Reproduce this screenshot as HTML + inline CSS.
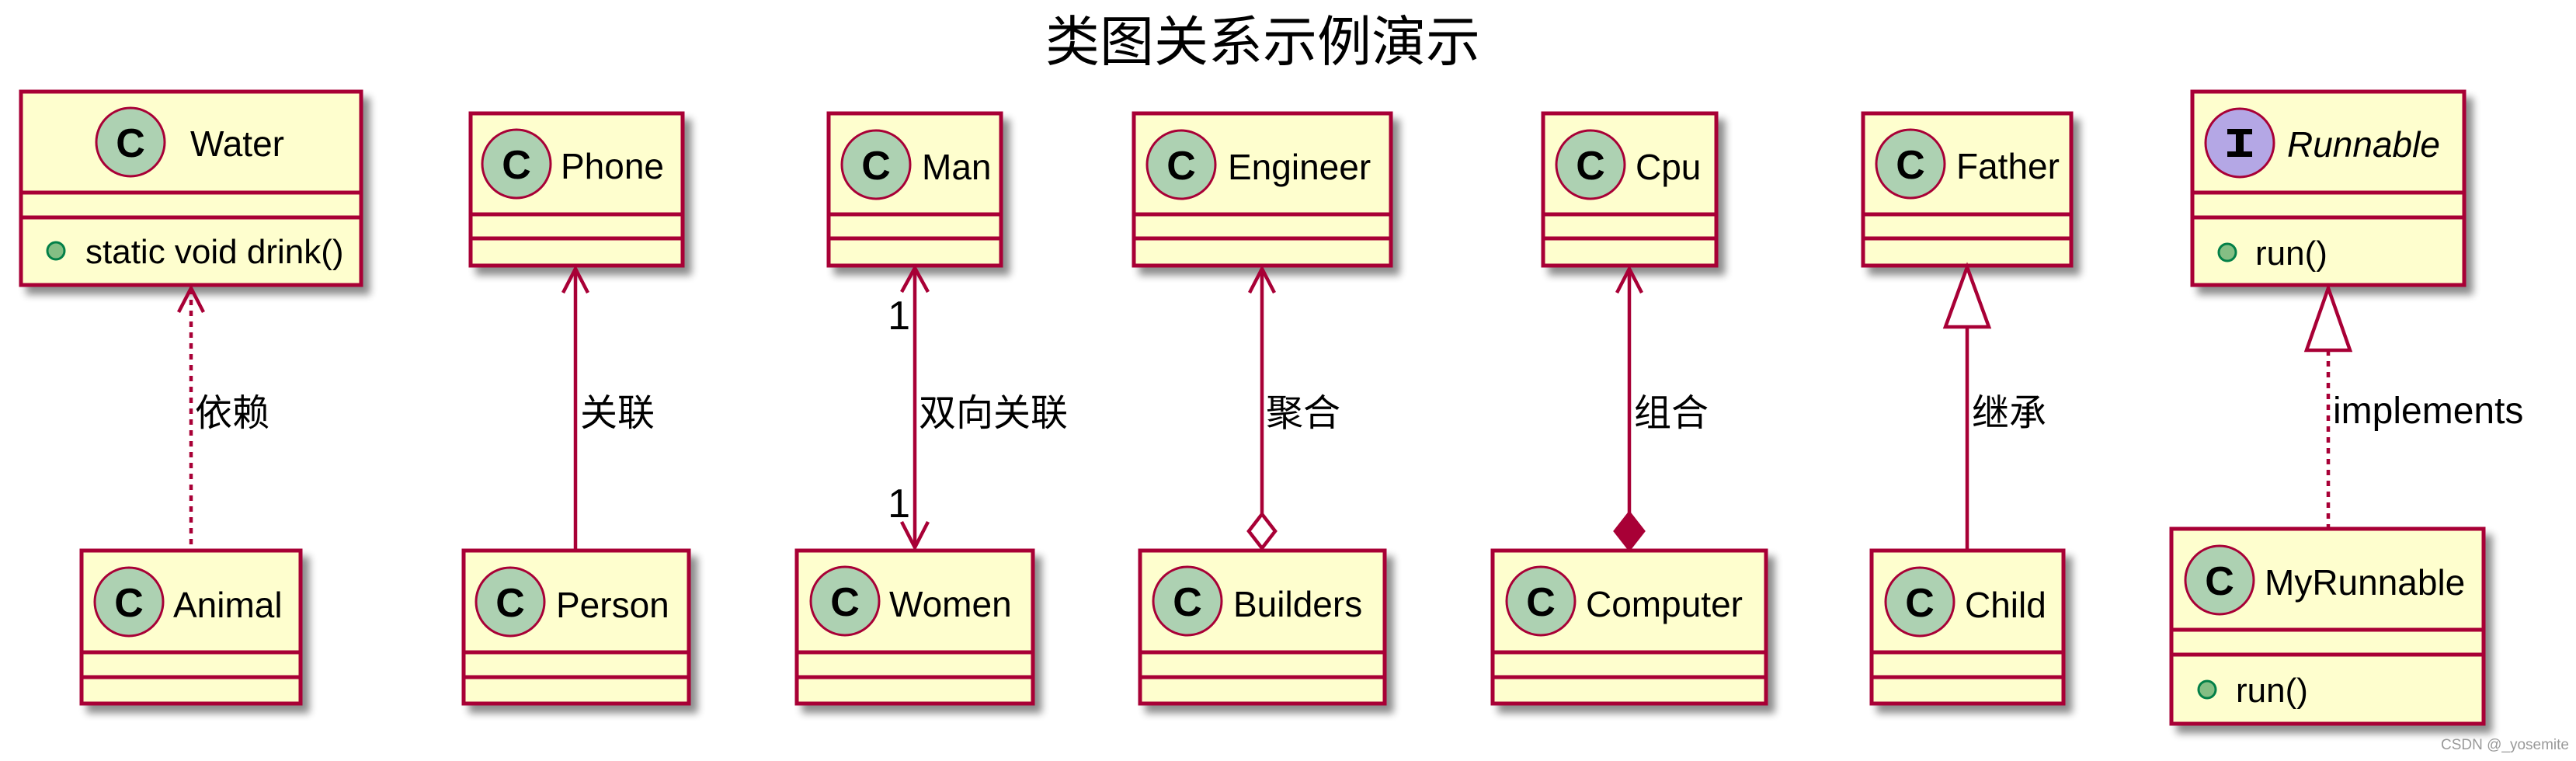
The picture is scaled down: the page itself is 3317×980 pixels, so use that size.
<!DOCTYPE html>
<html><head><meta charset="utf-8"><style>
html,body{margin:0;padding:0;background:#fff;}
svg{display:block;}
.n{font-family:"Liberation Sans","Noto Sans CJK SC",sans-serif;font-size:46px;fill:#000;}
.l{font-family:"Liberation Sans","Noto Sans CJK SC",sans-serif;font-size:48px;fill:#000;}
.c{font-family:"Liberation Sans",sans-serif;font-weight:bold;font-size:52px;fill:#000;text-anchor:middle;}
</style></head><body>
<svg width="3317" height="980" viewBox="0 0 3317 980" xmlns="http://www.w3.org/2000/svg">
<defs>
<filter id="sh" x="-10%" y="-10%" width="130%" height="140%">
<feGaussianBlur in="SourceAlpha" stdDeviation="5"/>
<feOffset dx="9" dy="10" result="b"/>
<feComponentTransfer><feFuncA type="linear" slope="0.45"/></feComponentTransfer>
<feMerge><feMergeNode/><feMergeNode in="SourceGraphic"/></feMerge>
</filter>
</defs>

<text x="1626" y="78" text-anchor="middle" style="font-family:'Noto Sans CJK SC',sans-serif;font-size:70px;fill:#000;">类图关系示例演示</text>

<g stroke="#A80036" stroke-width="5" fill="#FEFECE">
<!-- top row -->
<rect x="27" y="118" width="438" height="249" filter="url(#sh)"/>
<rect x="606" y="146" width="273" height="196" filter="url(#sh)"/>
<rect x="1067" y="146" width="222" height="196" filter="url(#sh)"/>
<rect x="1460" y="146" width="331" height="196" filter="url(#sh)"/>
<rect x="1987" y="146" width="223" height="196" filter="url(#sh)"/>
<rect x="2399" y="146" width="268" height="196" filter="url(#sh)"/>
<rect x="2823" y="118" width="350" height="249" filter="url(#sh)"/>
<!-- bottom row -->
<rect x="105" y="709" width="282" height="197" filter="url(#sh)"/>
<rect x="597" y="709" width="290" height="197" filter="url(#sh)"/>
<rect x="1026" y="709" width="304" height="197" filter="url(#sh)"/>
<rect x="1468" y="709" width="315" height="197" filter="url(#sh)"/>
<rect x="1922" y="709" width="352" height="197" filter="url(#sh)"/>
<rect x="2410" y="709" width="247" height="197" filter="url(#sh)"/>
<rect x="2796" y="681" width="402" height="251" filter="url(#sh)"/>
</g>

<g stroke="#A80036" stroke-width="5">
<line x1="27" y1="248" x2="465" y2="248"/><line x1="27" y1="280" x2="465" y2="280"/>
<line x1="606" y1="276" x2="879" y2="276"/><line x1="606" y1="307" x2="879" y2="307"/>
<line x1="1067" y1="276" x2="1289" y2="276"/><line x1="1067" y1="307" x2="1289" y2="307"/>
<line x1="1460" y1="276" x2="1791" y2="276"/><line x1="1460" y1="307" x2="1791" y2="307"/>
<line x1="1987" y1="276" x2="2210" y2="276"/><line x1="1987" y1="307" x2="2210" y2="307"/>
<line x1="2399" y1="276" x2="2667" y2="276"/><line x1="2399" y1="307" x2="2667" y2="307"/>
<line x1="2823" y1="248" x2="3173" y2="248"/><line x1="2823" y1="280" x2="3173" y2="280"/>
<line x1="105" y1="840" x2="387" y2="840"/><line x1="105" y1="872" x2="387" y2="872"/>
<line x1="597" y1="840" x2="887" y2="840"/><line x1="597" y1="872" x2="887" y2="872"/>
<line x1="1026" y1="840" x2="1330" y2="840"/><line x1="1026" y1="872" x2="1330" y2="872"/>
<line x1="1468" y1="840" x2="1783" y2="840"/><line x1="1468" y1="872" x2="1783" y2="872"/>
<line x1="1922" y1="840" x2="2274" y2="840"/><line x1="1922" y1="872" x2="2274" y2="872"/>
<line x1="2410" y1="840" x2="2657" y2="840"/><line x1="2410" y1="872" x2="2657" y2="872"/>
<line x1="2796" y1="811" x2="3198" y2="811"/><line x1="2796" y1="843" x2="3198" y2="843"/>
</g>

<!-- spot circles -->
<g stroke="#A80036" stroke-width="3" fill="#ADD1B2">
<circle cx="168" cy="183" r="44"/>
<circle cx="665" cy="211" r="44"/>
<circle cx="1128" cy="212" r="44"/>
<circle cx="1521" cy="212" r="44"/>
<circle cx="2048" cy="212" r="44"/>
<circle cx="2460" cy="211" r="44"/>
<circle cx="166" cy="775" r="44"/>
<circle cx="657" cy="775" r="44"/>
<circle cx="1088" cy="774" r="44"/>
<circle cx="1529" cy="774" r="44"/>
<circle cx="1984" cy="774" r="44"/>
<circle cx="2472" cy="775" r="44"/>
<circle cx="2858" cy="747" r="44"/>
<circle cx="2884" cy="184" r="44" fill="#B4A7E5"/>
</g>
<g class="c">
<text x="168" y="202" class="c">C</text>
<text x="665" y="230" class="c">C</text>
<text x="1128" y="231" class="c">C</text>
<text x="1521" y="231" class="c">C</text>
<text x="2048" y="231" class="c">C</text>
<text x="2460" y="230" class="c">C</text>
<text x="166" y="794" class="c">C</text>
<text x="657" y="794" class="c">C</text>
<text x="1088" y="793" class="c">C</text>
<text x="1529" y="793" class="c">C</text>
<text x="1984" y="793" class="c">C</text>
<text x="2472" y="794" class="c">C</text>
<text x="2858" y="766" class="c">C</text>
</g>
<g fill="#000">
<rect x="2868" y="166" width="32" height="7"/>
<rect x="2868" y="195" width="32" height="7"/>
<rect x="2879" y="166" width="10" height="36"/>
</g>

<!-- names -->
<text x="245" y="201" class="n">Water</text>
<text x="722" y="230" class="n">Phone</text>
<text x="1187" y="231" class="n">Man</text>
<text x="1581" y="231" class="n">Engineer</text>
<text x="2106" y="231" class="n">Cpu</text>
<text x="2519" y="230" class="n">Father</text>
<text x="2945" y="202" class="n" font-style="italic">Runnable</text>
<text x="223" y="795" class="n">Animal</text>
<text x="716" y="795" class="n">Person</text>
<text x="1145" y="794" class="n">Women</text>
<text x="1588" y="794" class="n">Builders</text>
<text x="2042" y="794" class="n">Computer</text>
<text x="2530" y="795" class="n">Child</text>
<text x="2916" y="766" class="n">MyRunnable</text>

<!-- methods -->
<g fill="#84BE84" stroke="#038048" stroke-width="3">
<circle cx="72" cy="323" r="11"/>
<circle cx="2868" cy="325" r="11"/>
<circle cx="2842" cy="888" r="11"/>
</g>
<text x="110" y="339" class="n" style="font-size:44px">static void drink()</text>
<text x="2904" y="341" class="n" style="font-size:44px">run()</text>
<text x="2879" y="904" class="n" style="font-size:44px">run()</text>

<!-- connectors -->
<g stroke="#A80036" stroke-width="4.5" fill="none">
<line x1="246" y1="372" x2="246" y2="709" stroke-dasharray="7 7"/>
<polyline points="230,402 246,371 262,402"/>
<line x1="741" y1="346" x2="741" y2="709"/>
<polyline points="725,377 741,346 757,377"/>
<line x1="1178" y1="346" x2="1178" y2="704"/>
<polyline points="1161,376 1178,345 1195,376"/>
<polyline points="1161,672 1178,705 1195,672"/>
<line x1="1625" y1="346" x2="1625" y2="662"/>
<polyline points="1609,377 1625,346 1641,377"/>
<polygon points="1625,662 1642,684 1625,706 1608,684" fill="#fff"/>
<line x1="2098" y1="346" x2="2098" y2="662"/>
<polyline points="2082,377 2098,346 2114,377"/>
<polygon points="2098,661 2116,684 2098,707 2080,684" fill="#A80036"/>
<line x1="2533" y1="421" x2="2533" y2="709"/>
<polygon points="2533,344 2561,421 2505,421" fill="#fff"/>
<line x1="2998" y1="451" x2="2998" y2="681" stroke-dasharray="7 7"/>
<polygon points="2998,371 3026,451 2970,451" fill="#fff"/>
</g>

<!-- labels -->
<text x="251" y="548" class="l">依赖</text>
<text x="747" y="548" class="l">关联</text>
<text x="1183" y="548" class="l">双向关联</text>
<text x="1630" y="548" class="l">聚合</text>
<text x="2104" y="548" class="l">组合</text>
<text x="2539" y="548" class="l">继承</text>
<text x="3004" y="545" class="l">implements</text>
<text x="1172" y="424" class="l" text-anchor="end" style="font-size:52px">1</text>
<text x="1172" y="666" class="l" text-anchor="end" style="font-size:52px">1</text>

<text x="3143" y="965" style="font-family:'Liberation Sans',sans-serif;font-size:19px;fill:#999;">CSDN @_yosemite</text>
</svg>
</body></html>
